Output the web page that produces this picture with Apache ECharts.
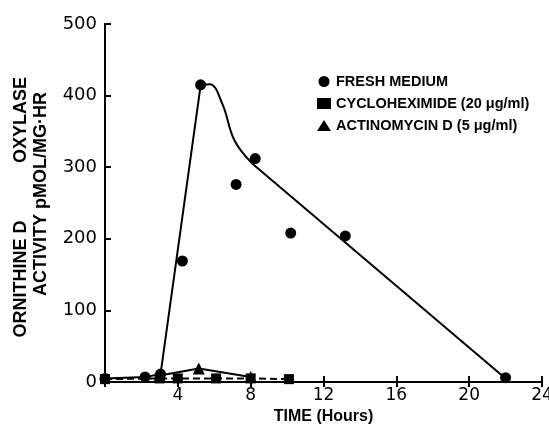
<!DOCTYPE html>
<html><head><meta charset="utf-8">
<script src="https://cdn.jsdelivr.net/npm/echarts@6/dist/echarts.min.js"></script>
<style>html,body{margin:0;padding:0;background:#fff;overflow:hidden}#c{width:549px;height:425px}</style>
</head><body><div id="c"></div>
<script>
// Fresh medium measurements
var freshX = [0, 2.2, 3.05, 4.25, 5.25, 7.2, 8.25, 10.2, 13.2, 22];
var freshY = [5, 7, 11, 169, 415, 276, 312, 208, 204, 6];
// Hand-drawn fitted line for fresh medium: straight rise, curved bend, straight fall
var riseX = [0, 2.2, 3.05, 5.25];
var riseY = [5, 7, 11, 414];
var bendX = [5.25, 5.75, 6.45, 7.1, 8.05];
var bendY = [414, 416, 388, 338, 306];
var fallX = [8.05, 22];
var fallY = [306, 5];
// Cycloheximide (20 ug/ml)
var cycloX = [0, 3, 4, 6.1, 8, 10.1];
var cycloY = [4, 5, 5, 5, 5, 4];
// Actinomycin D (5 ug/ml)
var actX = [3, 5.15, 8];
var actY = [9, 19, 7];
var xTicks = [0, 4, 8, 12, 16, 20, 24];
var yTicks = [0, 100, 200, 300, 400, 500];
var legendNames = ['FRESH MEDIUM', 'CYCLOHEXIMIDE (20 \u03bcg/ml)', 'ACTINOMYCIN D (5 \u03bcg/ml)'];

function pairs(xs, ys){ return xs.map(function(x,i){ return [x, ys[i]]; }); }

var chart = echarts.init(document.getElementById('c'));
var axisLine = {show:true, lineStyle:{color:'#000', width:2}};
chart.setOption({
  animation:false,
  backgroundColor:'#fff',
  grid:{left:105, right:7, top:24, bottom:43, containLabel:false, outerBoundsMode:'none'},
  xAxis:[{
    type:'value', min:xTicks[0], max:xTicks[xTicks.length-1], interval:4,
    axisLine:axisLine, splitLine:{show:false},
    axisTick:{show:true, inside:true, length:6, lineStyle:{color:'#000', width:2}},
    axisLabel:{color:'#000', fontFamily:'DejaVu Sans', fontSize:17, margin:5,
      formatter:function(v){ return v===0 ? '' : String(v); }},
    name:'TIME (Hours)', nameLocation:'middle', nameGap:22,
    nameTextStyle:{color:'#000', fontFamily:'Liberation Sans', fontSize:16, fontWeight:'bold'}
  },{
    type:'value', position:'top', min:xTicks[0], max:xTicks[xTicks.length-1], interval:4,
    axisLine:axisLine, splitLine:{show:false},
    axisTick:{show:true, inside:true, length:5, lineStyle:{color:'#000', width:2}},
    axisLabel:{show:false}
  }],
  yAxis:[{
    type:'value', min:yTicks[0], max:yTicks[yTicks.length-1], interval:100,
    axisLine:axisLine, splitLine:{show:false},
    axisTick:{show:true, inside:true, length:6, lineStyle:{color:'#000', width:2}},
    axisLabel:{color:'#000', fontFamily:'DejaVu Sans', fontSize:18, margin:8}
  },{
    type:'value', position:'right', min:0, max:500, interval:100,
    axisLine:axisLine, splitLine:{show:false}, axisTick:{show:false}, axisLabel:{show:false}
  }],
  legend:{
    orient:'vertical', left:312, top:69, itemGap:7, itemWidth:14, itemHeight:11,
    data:[{name:legendNames[0], icon:'circle'},{name:legendNames[1], icon:'rect'},{name:legendNames[2], icon:'triangle'}],
    textStyle:{color:'#000', fontFamily:'Liberation Sans', fontSize:14.5, fontWeight:'bold'}
  },
  graphic:[
    {type:'text', x:21, y:279, rotation:Math.PI/2, style:{text:'ORNITHINE D', align:'center', verticalAlign:'middle', fill:'#000', font:'bold 18px "Liberation Sans"'}},
    {type:'text', x:21, y:120, rotation:Math.PI/2, style:{text:'OXYLASE', align:'center', verticalAlign:'middle', fill:'#000', font:'bold 18px "Liberation Sans"'}},
    {type:'text', x:41, y:194, rotation:Math.PI/2, style:{text:'ACTIVITY pMOL/MG\u00b7HR', align:'center', verticalAlign:'middle', fill:'#000', font:'bold 18px "Liberation Sans"'}}
  ],
  series:[
    {type:'line', name:'rise', data:pairs(riseX, riseY), showSymbol:false, symbol:'none',
      lineStyle:{color:'#000', width:2}, z:2, silent:true},
    {type:'line', name:'bend', data:pairs(bendX, bendY), smooth:0.4, showSymbol:false, symbol:'none',
      lineStyle:{color:'#000', width:2}, z:2, silent:true},
    {type:'line', name:'fall', data:pairs(fallX, fallY), showSymbol:false, symbol:'none',
      lineStyle:{color:'#000', width:2}, z:2, silent:true},
    {type:'line', name:legendNames[1], data:pairs(cycloX, cycloY), symbol:'rect', symbolSize:10,
      itemStyle:{color:'#000', opacity:1}, lineStyle:{color:'#000', width:2, type:[7,4]}, z:3},
    {type:'line', name:legendNames[2], data:pairs(actX, actY), symbol:'triangle', symbolSize:12,
      itemStyle:{color:'#000', opacity:1}, lineStyle:{color:'#000', width:2}, z:3},
    {type:'scatter', name:legendNames[0], data:pairs(freshX, freshY), symbol:'circle', symbolSize:11,
      itemStyle:{color:'#000', opacity:1}, z:4}
  ]
});
</script></body></html>
